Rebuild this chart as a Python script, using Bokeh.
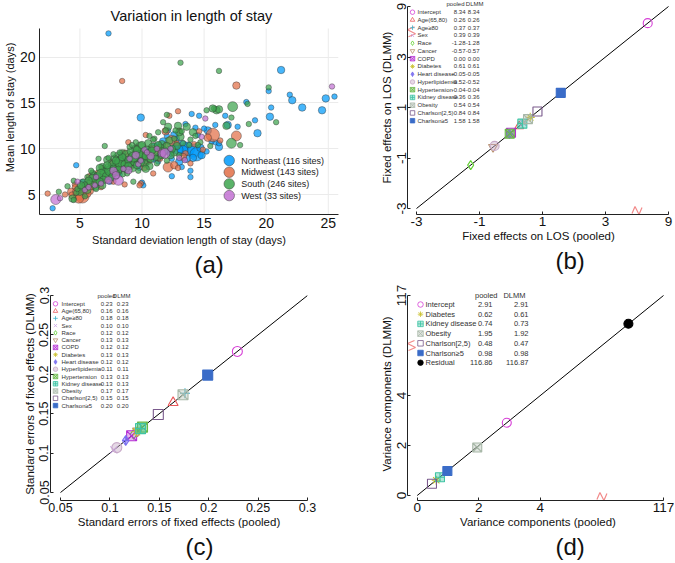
import numpy as np
from bokeh.plotting import figure
from bokeh.layouts import column, row
from bokeh.models import Range1d, FixedTicker, Title
from bokeh.core.properties import value
from bokeh.embed import file_html
from bokeh.resources import INLINE

FONT = "Liberation Sans"

# ---------------- (a) site-level data: SD of LOS, mean LOS, relative site volume ----------------
ne_sd = [7.3, 21.2, 20.2, 21.9, 22.1, 22.9, 24.5, 24.8, 25.5, 20.3, 20.4, 19.1, 19.3, 18.4, 16.9, 16.7,
         16.2, 15.9, 15.3, 15.9, 14.6, 14.0, 14.3, 9.9, 12.0, 12.6, 13.2, 13.7, 14.2, 14.4, 13.3, 12.9,
         14.8, 14.1, 13.6, 12.4, 12.4, 13.9, 13.9, 13.2, 11.0, 10.0, 10.6, 11.3, 10.0, 10.1, 9.6, 9.0,
         8.5, 8.2, 7.4, 6.8, 6.0, 5.6, 4.7, 2.8, 5.2, 12.1, 11.7, 12.8, 15.0, 14.5, 15.6, 13.5, 9.3,
         10.4, 11.5, 16.2, 17.7, 11.8, 12.3, 10.9, 9.8, 8.8, 7.8, 6.4, 13.0, 14.7, 15.2, 12.7, 11.3]
ne_mean = [22.6, 18.6, 16.3, 15.9, 15.3, 14.5, 14.2, 15.5, 15.7, 13.5, 14.5, 13.1, 11.7, 15.1, 12.6, 13.6,
           10.2, 10.7, 12.0, 12.6, 13.6, 13.8, 12.3, 13.4, 11.4, 11.5, 10.2, 10.0, 9.8, 9.4, 9.8, 9.9,
           9.3, 9.0, 8.9, 8.9, 7.0, 7.6, 6.9, 8.0, 10.2, 8.8, 9.6, 10.3, 6.3, 6.0, 9.6, 9.0,
           8.6, 7.2, 6.5, 6.9, 6.6, 6.0, 8.2, 3.5, 6.4, 12.0, 10.8, 11.1, 12.2, 11.5, 10.8, 12.7, 8.3,
           8.5, 9.3, 10.6, 12.4, 9.7, 9.6, 8.8, 7.9, 8.2, 7.9, 6.2, 8.6, 10.1, 9.7, 10.4, 8.6]
ne_vol = [1, 2, 1, 1, 2, 2, 2, 2, 1, 2, 1, 1, 2, 1, 2, 1,
          2, 1, 2, 1, 1, 1, 1, 2, 1, 2, 4, 4, 4, 4, 3, 3,
          2, 2, 2, 1, 1, 1, 1, 1, 2, 2, 3, 2, 1, 1, 2, 2,
          2, 1, 2, 2, 1, 2, 1, 1, 1, 1, 2, 1, 1, 1, 1, 1, 2,
          1, 2, 1, 1, 2, 2, 1, 1, 1, 1, 1, 2, 2, 1, 2, 1]

mw_sd = [8.4, 17.6, 17.6, 15.7, 15.3, 12.9, 12.2, 10.3, 12.4, 11.9, 12.1, 12.6, 11.4, 10.8, 10.2, 9.9,
         9.8, 8.9, 8.9, 9.5, 8.1, 8.6, 7.6, 7.1, 6.5, 6.3, 5.8, 5.5, 5.0, 5.2, 4.9, 4.3, 3.8, 2.4,
         4.6, 5.8, 6.1, 7.2, 8.3, 9.2, 10.5, 11.1, 13.5, 14.9, 13.9, 6.8, 7.9, 11.9, 14.6, 13.0,
         16.3, 10.9, 12.9, 9.6, 8.6, 7.7, 6.7, 5.0, 4.6, 5.6,
         5.3, 5.9, 6.9, 7.4, 8.5, 9.1, 10.0, 10.6, 11.6, 12.8, 4.4, 4.7, 6.0, 7.5, 9.4, 13.3, 14.2]
mw_mean = [17.4, 16.9, 11.4, 11.5, 11.2, 14.1, 13.6, 11.5, 10.9, 11.9, 8.0, 8.2, 9.0, 10.0, 8.0, 6.2,
           6.0, 9.1, 10.7, 9.0, 8.8, 9.6, 7.4, 7.6, 7.3, 6.5, 6.9, 5.9, 5.1, 4.8, 4.6, 5.3, 5.0, 5.1,
           6.1, 5.4, 6.1, 6.7, 7.9, 8.4, 8.7, 9.6, 9.5, 9.9, 8.4, 7.9, 8.2, 10.4, 11.9, 12.0,
           10.9, 7.3, 7.9, 10.1, 6.1, 6.4, 5.8, 5.6, 5.8, 5.1,
           5.6, 6.3, 7.0, 7.3, 8.4, 8.0, 9.2, 9.4, 10.0, 10.6, 4.9, 5.3, 5.8, 8.6, 9.6, 9.1, 10.5]
mw_vol = [1, 2, 3, 4, 2, 1, 1, 1, 3, 2, 3, 2, 2, 2, 2, 1,
          1, 2, 1, 2, 2, 1, 2, 1, 2, 2, 2, 2, 4, 4, 3, 2, 1, 1,
          1, 2, 2, 2, 2, 1, 2, 2, 1, 1, 1, 1, 2, 1, 1, 1,
          1, 1, 1, 1, 1, 1, 1, 2, 1, 2,
          2, 2, 2, 1, 2, 1, 2, 1, 2, 1, 2, 2, 1, 1, 1, 2, 1]

s_sd = [13.1, 16.2, 20.2, 18.5, 17.3, 16.0, 15.8, 15.2, 20.8, 18.6, 17.2, 17.9, 17.2, 16.8, 14.1, 13.6,
        12.9, 13.1, 12.1, 11.9, 11.3, 12.0, 11.7, 10.5, 11.3, 12.6, 10.5, 9.85, 9.45, 9.2, 8.4, 8.1,
        7.85, 7.3, 6.8, 6.1, 5.3, 4.4, 4.5, 4.0, 3.3, 4.5, 5.6, 6.25, 6.8, 8.4, 9.3, 7.0, 6.5,
        7.5, 8.0, 8.7, 9.0, 9.6, 10.1, 10.9, 11.6, 12.2, 12.8, 7.0, 6.5, 6.2, 5.8, 5.2, 5.0,
        7.8, 8.3, 8.8, 9.1, 9.9, 10.4, 11.0, 11.5, 8.0, 7.6, 6.9, 8.5, 9.4, 10.2, 10.6, 11.8, 12.4,
        13.3, 13.9, 14.7, 15.5, 14.3, 16.2, 13.0, 12.6, 11.0, 10.6, 9.5, 9.0, 7.7, 7.2, 6.6, 6.0,
        5.6, 5.9, 6.3, 7.9, 8.8, 9.7, 10.3, 11.2, 12.0, 13.0, 4.7, 5.4, 15.7,
        6.4, 6.7, 7.1, 7.4, 7.7, 8.2, 8.6, 8.9, 9.3, 9.8, 10.3, 10.8, 11.3, 7.2, 7.9, 8.4, 9.6, 10.0,
        6.0, 5.7, 5.4, 6.9, 7.6, 8.1, 8.7, 9.9, 10.7, 11.6, 12.3, 12.0, 9.2, 8.2, 7.3, 10.9, 12.7,
        13.2, 13.8, 14.5, 4.8, 5.1, 6.6, 7.9, 8.9, 9.6, 11.1]
s_mean = [19.4, 18.5, 16.7, 14.9, 14.6, 14.2, 14.4, 14.2, 12.9, 12.7, 10.6, 10.4, 13.4, 12.5, 11.8, 12.4,
          12.5, 11.3, 12.4, 12.0, 11.8, 13.7, 12.9, 10.6, 9.1, 9.6, 9.1, 10.2, 10.0, 8.0, 9.5, 9.1,
          8.4, 7.8, 8.0, 7.1, 6.3, 4.55, 4.4, 5.9, 5.3, 6.5, 5.5, 5.85, 6.0, 7.3, 6.4, 10.3, 8.9,
          7.1, 7.6, 8.0, 8.6, 9.2, 9.5, 10.1, 10.5, 10.9, 10.3, 7.3, 6.8, 6.3, 6.2, 5.8, 5.3,
          8.9, 8.7, 9.3, 9.7, 9.0, 9.9, 9.5, 10.1, 8.2, 8.3, 7.5, 8.1, 8.7, 8.4, 8.1, 9.8, 10.0,
          10.6, 11.0, 10.7, 10.3, 11.4, 14.3, 11.8, 11.1, 11.1, 11.4, 10.7, 10.2, 9.4, 8.8, 7.9, 7.4,
          6.9, 7.6, 5.6, 6.9, 7.3, 7.6, 7.8, 8.4, 8.7, 9.3, 5.2, 4.8, 14.4,
          7.0, 7.2, 7.0, 7.6, 7.8, 8.5, 8.3, 8.8, 9.1, 9.4, 9.2, 9.8, 10.4, 8.2, 8.7, 9.1, 9.9, 10.4,
          6.8, 6.5, 6.1, 6.6, 6.9, 7.7, 7.8, 8.5, 8.9, 9.3, 9.3, 10.3, 10.4, 9.6, 9.0, 11.0, 12.0,
          11.9, 10.4, 10.4, 5.6, 6.0, 6.4, 7.3, 8.1, 8.2, 9.0]
s_vol = [1, 1, 1, 1, 3, 2, 1, 1, 1, 1, 3, 1, 1, 2, 2, 2,
         2, 2, 2, 1, 1, 1, 1, 2, 2, 2, 3, 3, 2, 3, 2, 3,
         2, 3, 2, 2, 2, 2, 1, 1, 1, 1, 2, 2, 2, 2, 1, 1, 1,
         3, 3, 3, 3, 3, 3, 3, 2, 2, 2, 3, 3, 2, 2, 2, 2,
         2, 3, 3, 2, 3, 2, 2, 2, 3, 2, 2, 3, 3, 2, 2, 2, 2,
         1, 1, 1, 1, 1, 2, 2, 1, 1, 1, 1, 1, 1, 2, 2, 1,
         1, 1, 1, 1, 1, 1, 2, 1, 1, 1, 1, 1, 2,
         2, 3, 2, 3, 2, 3, 2, 2, 3, 2, 2, 2, 2, 2, 2, 2, 2, 2,
         2, 2, 1, 2, 2, 2, 2, 2, 2, 2, 2, 2, 1, 1, 1, 1, 1,
         1, 1, 1, 1, 2, 2, 2, 2, 2, 1]

w_sd = [25.3, 15.1, 14.8, 11.6, 11.85, 13.45, 8.9, 8.1, 7.3, 3.05, 4.8, 9.5, 10.7, 11.2, 7.7, 6.3,
        5.4, 9.7, 12.3, 8.5, 10.2, 13.0, 6.7, 3.4, 9.0, 6.2, 7.9, 9.9, 10.4, 5.7]
w_mean = [16.8, 13.3, 11.3, 9.5, 9.5, 8.75, 7.65, 6.55, 6.55, 4.45, 6.4, 9.3, 9.2, 10.0, 7.6, 6.9,
          5.5, 8.3, 10.0, 7.8, 9.9, 9.0, 6.2, 4.6, 8.9, 6.0, 7.1, 8.7, 9.6, 5.8]
w_vol = [1, 1, 1, 2, 3, 1, 2, 3, 2, 3, 1, 2, 2, 1, 2, 1,
         1, 1, 1, 1, 1, 1, 1, 1, 1, 1, 2, 1, 1, 1]

region_labels = ["Northeast (116 sites)", "Midwest (143 sites)", "South (246 sites)", "West (33 sites)"]
a_xticks = [5, 10, 15, 20, 25]
a_yticks = [5, 10, 15, 20]

# ---------------- (b)/(c) fixed effects ----------------
effects = ["Intercept", "Age(65,80)", "Age\u226580", "Sex", "Race", "Cancer", "COPD", "Diabetes",
           "Heart disease", "Hyperlipidemia", "Hypertension", "Kidney disease", "Obesity",
           "Charlson[2,5)", "Charlson\u22655"]
fe_pooled = [8.34, 0.26, 0.37, 0.39, -1.28, -0.57, 0.00, 0.61, -0.05, -0.52, -0.04, 0.36, 0.54, 0.84, 1.58]
fe_dlmm = [8.34, 0.26, 0.37, 0.39, -1.28, -0.57, 0.00, 0.61, -0.05, -0.52, -0.04, 0.36, 0.54, 0.84, 1.58]
se_pooled = [0.229, 0.164, 0.176, 0.104, 0.124, 0.128, 0.122, 0.127, 0.116, 0.107, 0.133, 0.131, 0.174, 0.149, 0.199]
se_dlmm = [0.229, 0.164, 0.176, 0.104, 0.124, 0.128, 0.122, 0.127, 0.116, 0.107, 0.133, 0.131, 0.174, 0.149, 0.199]

# ---------------- (d) variance components ----------------
vc_names = ["Intercept", "Diabetes", "Kidney disease", "Obesity", "Charlson[2,5)", "Charlson\u22655", "Residual"]
vc_pooled = [2.91, 0.62, 0.74, 1.95, 0.48, 0.98, 116.86]
vc_dlmm = [2.91, 0.61, 0.73, 1.92, 0.47, 0.98, 116.87]

# ---------------- styles ----------------
REGION_COLORS = ["#009afa", "#e26f46", "#3da44d", "#c271d2"]
VOL_PX = {1: 5.5, 2: 7.5, 3: 10, 4: 13.5}
STYLE = {
    "Intercept": ("circle", "#d63fd6", 0.0),
    "Age(65,80)": ("triangle", "#e8585a", 0.0),
    "Age\u226580": ("cross", "#3fb0c8", 0.0),
    "Sex": ("x", "#c9a3e6", 0.0),
    "Race": ("diamond", "#5fcf2f", 0.0),
    "Cancer": ("inverted_triangle", "#b8906c", 0.0),
    "COPD": ("square_x", "#b52fd4", 0.35),
    "Diabetes": ("asterisk", "#c9bf2a", 0.0),
    "Heart disease": ("diamond_cross", "#7a6ff0", 0.45),
    "Hyperlipidemia": ("circle", "#c8aac8", 0.45),
    "Hypertension": ("square_x", "#68b848", 0.45),
    "Kidney disease": ("square_cross", "#3fc4a4", 0.4),
    "Obesity": ("square_x", "#a8b8a8", 0.35),
    "Charlson[2,5)": ("square", "#7a5a8c", 0.0),
    "Charlson\u22655": ("square", "#3a6cc8", 1.0),
    "Residual": ("circle", "#000000", 1.0),
}
BREAK_COLOR = "#f28a8a"


def span_range(lo, hi, px_lo, px_hi, frame_lo, frame_hi):
    """Range of a frame spanning [frame_lo, frame_hi] pixels, where lo sits at px_lo and hi at px_hi."""
    unit = (px_hi - px_lo) / (hi - lo)
    return (lo - (px_lo - frame_lo) / unit, hi + (frame_hi - px_hi) / unit)


class Geo:
    def __init__(self, fw, fh, xr, yr):
        self.fw, self.fh, self.xr, self.yr = fw, fh, xr, yr

    def x(self, px):
        return self.xr[0] + np.asarray(px, float) * (self.xr[1] - self.xr[0]) / self.fw

    def y(self, py):
        return self.yr[1] - np.asarray(py, float) * (self.yr[1] - self.yr[0]) / self.fh

    def dx(self, px):
        return np.asarray(px, float) * (self.xr[1] - self.xr[0]) / self.fw

    def dy(self, py):
        return np.asarray(py, float) * (self.yr[1] - self.yr[0]) / self.fh


def make_fig(geo, bl, br, bt, bb):
    p = figure(width=bl + geo.fw + br, height=bt + geo.fh + bb,
               x_range=Range1d(*geo.xr), y_range=Range1d(*geo.yr),
               min_border_left=bl, min_border_right=br, min_border_top=bt, min_border_bottom=bb,
               output_backend="svg", toolbar_location=None)
    p.outline_line_color = None
    p.background_fill_color = "white"
    p.border_fill_color = "white"
    return p


def style_axes(p, tick_px, label_px, rotate_y, ticks_in):
    for ax in (p.xaxis[0], p.yaxis[0]):
        ax.major_label_text_font = FONT
        ax.axis_label_text_font = FONT
        ax.major_label_text_font_size = f"{tick_px}px"
        ax.axis_label_text_font_size = f"{label_px}px"
        ax.axis_label_text_font_style = "normal"
        ax.major_label_text_color = "#111111"
        ax.axis_label_text_color = "#111111"
        ax.axis_line_color = "#222222"
        ax.axis_line_width = 1
        ax.minor_tick_line_color = None
        ax.major_tick_out = 0
        ax.major_tick_in = ticks_in
        ax.major_tick_line_color = "#222222" if ticks_in else None
        ax.major_label_standoff = 2
        ax.axis_label_standoff = 1
    if rotate_y:
        p.yaxis[0].major_label_orientation = "vertical"


def panel_label(p, offset_px, text):
    p.add_layout(Title(text=text, align="left", offset=offset_px, standoff=0,
                       text_font=FONT, text_font_size="24px", text_font_style="normal",
                       text_color="#111111"), "below")


def zigzag_x(p, geo, xc):
    xs = xc + geo.dx([-5, -2, 2, 5])
    ys = geo.yr[0] + geo.dy([1, 8, 0, 7])
    p.line(xs, ys, line_color=BREAK_COLOR, line_width=1.2)


def zigzag_y(p, geo, yc):
    ys = yc + geo.dy([-5, -2, 2, 5])
    xs = geo.xr[0] + geo.dx([1, 8, 0, 7])
    p.line(xs, ys, line_color=BREAK_COLOR, line_width=1.2)


def effect_marker(p, name, xs, ys, size, lw):
    mk, col, fa = STYLE[name]
    p.scatter(xs, ys, marker=mk, size=size, line_color=col, line_width=lw,
              fill_color=col if fa > 0 else None, fill_alpha=fa)


def legend_table(p, geo, names, col_a, col_b, mk_px, name_px, a_px, b_px, ha_px, hb_px,
                 head_py, row0_py, row_dy, font_px, mk_size):
    rows_py = [row0_py + i * row_dy for i in range(len(names))]
    for i, nm in enumerate(names):
        effect_marker(p, nm, [float(geo.x(mk_px))], [float(geo.y(rows_py[i]))], mk_size, 0.8)
    ys = list(geo.y(rows_py))
    fs = f"{font_px}px"
    common = dict(text_font=value(FONT), text_font_size=fs, text_baseline="middle", text_color="#333333")
    p.text(x=[float(geo.x(name_px))] * len(names), y=ys, text=list(names), text_align="left", **common)
    p.text(x=[float(geo.x(a_px))] * len(names), y=ys, text=[f"{v:.2f}" for v in col_a],
           text_align="right", **common)
    p.text(x=[float(geo.x(b_px))] * len(names), y=ys, text=[f"{v:.2f}" for v in col_b],
           text_align="right", **common)
    hy = float(geo.y(head_py))
    p.text(x=[float(geo.x(ha_px)), float(geo.x(hb_px))], y=[hy, hy], text=["pooled", "DLMM"],
           text_align="right", **common)


# Page layout (pixels from the page's top-left): row 1 frames span y 0..214, row 2 frames y 287..500.

# =============== panel (a) ===============  figure x 0..340, frame x 37..338
A_TOP_DATA = 23.14
geo_a = Geo(301, 214, span_range(5, 25, 77.7, 327.7, 37, 338),
            tuple(-v for v in span_range(-20, -5, 56.7, 194, 0, 214))[::-1])
pa = make_fig(geo_a, 37, 2, 0, 64)
style_axes(pa, 14, 11, False, 0)
pa.yaxis[0].major_label_standoff = 4
pa.xaxis[0].major_label_standoff = 3
pa.xaxis[0].axis_label_standoff = 3
pa.xaxis[0].axis_label = "Standard deviation length of stay (days)"
pa.yaxis[0].axis_label = "Mean length of stay (days)"
pa.xaxis[0].ticker = FixedTicker(ticks=a_xticks)
pa.yaxis[0].ticker = FixedTicker(ticks=a_yticks)
pa.yaxis[0].bounds = (geo_a.yr[0], A_TOP_DATA)
pa.xgrid.grid_line_color = None
pa.ygrid.grid_line_color = "#ebebeb"
pa.segment(x0=a_xticks, x1=a_xticks, y0=[geo_a.yr[0]] * len(a_xticks), y1=[A_TOP_DATA] * len(a_xticks),
           line_color="#ebebeb", line_width=1)
pa.text(x=[float(geo_a.x(153))], y=[float(geo_a.y(15))], text=["Variation in length of stay"],
        text_font=value(FONT), text_font_size="14.5px", text_align="center", text_baseline="middle",
        text_color="#111111")

regions = [(ne_sd, ne_mean, ne_vol), (mw_sd, mw_mean, mw_vol), (s_sd, s_mean, s_vol), (w_sd, w_mean, w_vol)]
for (sx, my, vol), col in zip(regions, REGION_COLORS):
    pa.scatter(sx, my, size=[VOL_PX[v] for v in vol], fill_color=col, fill_alpha=0.72,
               line_color="#333333", line_alpha=0.7, line_width=0.6)
leg_py = [160 + i * 11.7 for i in range(len(region_labels))]
pa.scatter([float(geo_a.x(191))] * 4, list(geo_a.y(leg_py)), size=10.5, fill_color=REGION_COLORS,
           fill_alpha=0.85, line_color="#3a3a3a", line_alpha=0.7, line_width=0.7)
pa.text(x=[float(geo_a.x(203))] * 4, y=list(geo_a.y(leg_py)), text=region_labels,
        text_font=value(FONT), text_font_size="9px", text_baseline="middle", text_align="left",
        text_color="#222222")
panel_label(pa, 155, "(a)")

# =============== panel (b) ===============  figure x 340..674, frame x 407..669
def brk_b(v):
    v = np.asarray(v, float)
    return np.where(v > 4, v - 4, v)

geo_b = Geo(262, 214, span_range(-3, 5, 416, 668, 407, 669),
            tuple(-v for v in span_range(-5, 3, 6, 208, 0, 214))[::-1])
pb = make_fig(geo_b, 67, 5, 0, 64)
style_axes(pb, 13.5, 11.5, True, 3)
pb.xaxis[0].axis_label = "Fixed effects on LOS (pooled)"
pb.yaxis[0].axis_label = "Fixed effects on LOS (DLMM)"
for ax in (pb.xaxis[0], pb.yaxis[0]):
    ax.bounds = (-3, 5)
    ax.ticker = FixedTicker(ticks=[-3, -1, 1, 3, 5])
    ax.major_label_overrides = {-3: "-3", -1: "-1", 1: "1", 3: "3", 5: "9"}
pb.xgrid.grid_line_color = None
pb.ygrid.grid_line_color = None
pb.line([-3, 5], [-3, 5], line_color="black", line_width=1)
bx = brk_b(fe_pooled)
by = brk_b(fe_dlmm)
for i, nm in enumerate(effects):
    effect_marker(pb, nm, [bx[i]], [by[i]], 9, 1.1)
zigzag_x(pb, geo_b, 4)
zigzag_y(pb, geo_b, 4)
legend_table(pb, geo_b, effects, fe_pooled, fe_dlmm, 5, 10, 58, 72, 57, 76, 3.5, 11.7, 7.75, 6, 4.5)
panel_label(pb, 148, "(b)")

# =============== panel (c) ===============  figure x 0..340, frame x 50..307
geo_c = Geo(257, 213, span_range(0.05, 0.3, 60, 307, 50, 307),
            tuple(-v for v in span_range(-0.3, -0.05, 295, 492, 287, 500))[::-1])
pc = make_fig(geo_c, 50, 33, 9, 62)
style_axes(pc, 12.5, 11.5, True, 3)
pc.xaxis[0].axis_label = "Standard errors of fixed effects (pooled)"
pc.yaxis[0].axis_label = "Standard errors of fixed effects (DLMM)"
c_ticks = [0.05, 0.1, 0.15, 0.2, 0.25, 0.3]
for ax in (pc.xaxis[0], pc.yaxis[0]):
    ax.bounds = (0.05, 0.3)
    ax.ticker = FixedTicker(ticks=c_ticks)
    ax.major_label_overrides = {t: f"{t:g}" for t in c_ticks}
pc.xgrid.grid_line_color = None
pc.ygrid.grid_line_color = None
pc.line([0.05, 0.3], [0.05, 0.3], line_color="black", line_width=1)
for i, nm in enumerate(effects):
    effect_marker(pc, nm, [se_pooled[i]], [se_dlmm[i]], 10, 1.1)
legend_table(pc, geo_c, effects, se_pooled, se_dlmm, 5, 11, 62, 78, 65, 80, 8, 16.3, 7.27, 6, 4.5)
panel_label(pc, 135, "(c)")

# =============== panel (d) ===============  figure x 340..674, frame x 407..668
def brk_d(v):
    v = np.asarray(v, float)
    return np.where(v > 6, v - 110, v)

geo_d = Geo(261, 213, span_range(0, 8, 416.7, 663, 407, 668),
            tuple(-v for v in span_range(-8, 0, 295, 495, 287, 500))[::-1])
pd_ = make_fig(geo_d, 67, 6, 9, 62)
style_axes(pd_, 13.5, 11.5, True, 3)
pd_.xaxis[0].axis_label = "Variance components (pooled)"
pd_.yaxis[0].axis_label = "Variance components (DLMM)"
for ax in (pd_.xaxis[0], pd_.yaxis[0]):
    ax.bounds = (0, 8)
    ax.ticker = FixedTicker(ticks=[0, 2, 4, 8])
    ax.major_label_overrides = {0: "0", 2: "2", 4: "4", 8: "117"}
pd_.xgrid.grid_line_color = None
pd_.ygrid.grid_line_color = None
pd_.line([0, 8], [0, 8], line_color="black", line_width=1)
dx_ = brk_d(vc_pooled)
dy_ = brk_d(vc_dlmm)
for i, nm in enumerate(vc_names):
    effect_marker(pd_, nm, [dx_[i]], [dy_[i]], 9, 1.1)
zigzag_x(pd_, geo_d, 6)
zigzag_y(pd_, geo_d, 6)
legend_table(pd_, geo_d, vc_names, vc_pooled, vc_dlmm, 13, 18, 85, 121, 90, 118, 8, 17, 9.7, 7.5, 5.5)
panel_label(pd_, 148, "(d)")

layout = column(row(pa, pb), row(pc, pd_))
open("out.html", "w").write(file_html(layout, INLINE))
